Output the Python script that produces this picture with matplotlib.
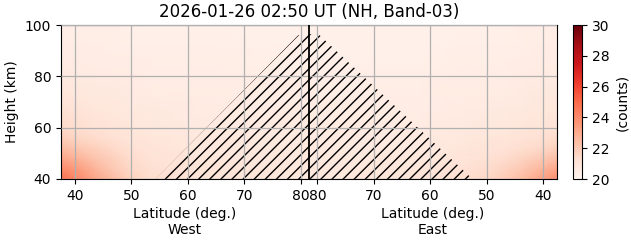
import numpy as np
import matplotlib
matplotlib.use("Agg")
import matplotlib.pyplot as plt

# x coordinate: distance (deg) from the pole crossing, West < 0 < East
pole_lat = 81.5
s_grid = [-44, -41, -38, -35, -32, -28, -20, 0, 20, 28, 32, 35, 38, 41, 44]
heights = [40, 44, 48, 52, 56, 60, 70, 80, 90, 100]

# counts (rows = heights, cols = s_grid)
counts = [
    [24.8, 24.0, 23.2, 22.5, 21.8, 21.3, 21.0, 20.8, 21.0, 21.3, 21.6, 22.0, 22.5, 23.2, 23.9],
    [24.0, 23.4, 22.7, 22.1, 21.6, 21.2, 21.0, 20.8, 20.9, 21.2, 21.4, 21.7, 22.1, 22.6, 23.2],
    [23.2, 22.7, 22.2, 21.8, 21.4, 21.1, 20.9, 20.7, 20.8, 21.0, 21.2, 21.4, 21.7, 22.0, 22.4],
    [22.5, 22.1, 21.8, 21.5, 21.2, 21.0, 20.8, 20.7, 20.7, 20.9, 21.0, 21.1, 21.3, 21.5, 21.8],
    [21.9, 21.6, 21.4, 21.2, 21.0, 20.9, 20.8, 20.6, 20.7, 20.8, 20.9, 21.0, 21.1, 21.2, 21.4],
    [21.5, 21.3, 21.1, 21.0, 20.9, 20.8, 20.7, 20.6, 20.6, 20.7, 20.8, 20.8, 20.9, 21.0, 21.1],
    [21.0, 20.9, 20.8, 20.8, 20.7, 20.7, 20.6, 20.5, 20.5, 20.6, 20.6, 20.7, 20.7, 20.8, 20.8],
    [20.7, 20.7, 20.6, 20.6, 20.6, 20.5, 20.5, 20.4, 20.4, 20.5, 20.5, 20.5, 20.6, 20.6, 20.6],
    [20.5, 20.5, 20.5, 20.4, 20.4, 20.4, 20.4, 20.3, 20.3, 20.4, 20.4, 20.4, 20.4, 20.5, 20.5],
    [20.4, 20.4, 20.4, 20.4, 20.3, 20.3, 20.3, 20.3, 20.3, 20.3, 20.3, 20.3, 20.4, 20.4, 20.4],
]

# hatched (shadow) region outline
shade_s = [-27.2, -1.9, 0.0, 1.9, 29.0]
shade_h = [40, 96, 96.5, 96, 40]

tick_lats = [40, 50, 60, 70, 80]

fig = plt.figure(figsize=(6.31, 2.43), dpi=100)
ax = fig.add_axes([61/631, 64/243, 496/631, 154/243])
cax = fig.add_axes([573/631, 64/243, 9/631, 154/243])

pc = ax.pcolormesh(s_grid, heights, np.array(counts), cmap="Reds",
                   vmin=20, vmax=30, shading="gouraud")
ax.fill(shade_s, shade_h, facecolor="none", edgecolor="black",
        hatch="///", linewidth=0)
ax.axvline(0, color="black", lw=1.3, zorder=3)

west_ticks = [lat - pole_lat for lat in tick_lats]
east_ticks = [pole_lat - lat for lat in tick_lats[::-1]]
ax.set_xticks(west_ticks + east_ticks)
ax.set_xticklabels([str(l) for l in tick_lats] + [str(l) for l in tick_lats[::-1]])
ax.set_yticks([40, 60, 80, 100])
ax.set_xlim(-44, 44)
ax.set_ylim(40, 100)
ax.grid(True, color="#b0b0b0", lw=0.9)
ax.set_axisbelow(False)
ax.set_ylabel("Height (km)")
ax.set_title("2026-01-26 02:50 UT (NH, Band-03)", fontsize=12)
ax.text(0.25, -0.18, "Latitude (deg.)\nWest", ha="center", va="top",
        transform=ax.transAxes, fontsize=10)
ax.text(0.75, -0.18, "Latitude (deg.)\nEast", ha="center", va="top",
        transform=ax.transAxes, fontsize=10)

cb = fig.colorbar(pc, cax=cax)
cb.set_ticks([20, 22, 24, 26, 28, 30])
cb.set_label("(counts)")

fig.savefig("out.png", dpi=100)
